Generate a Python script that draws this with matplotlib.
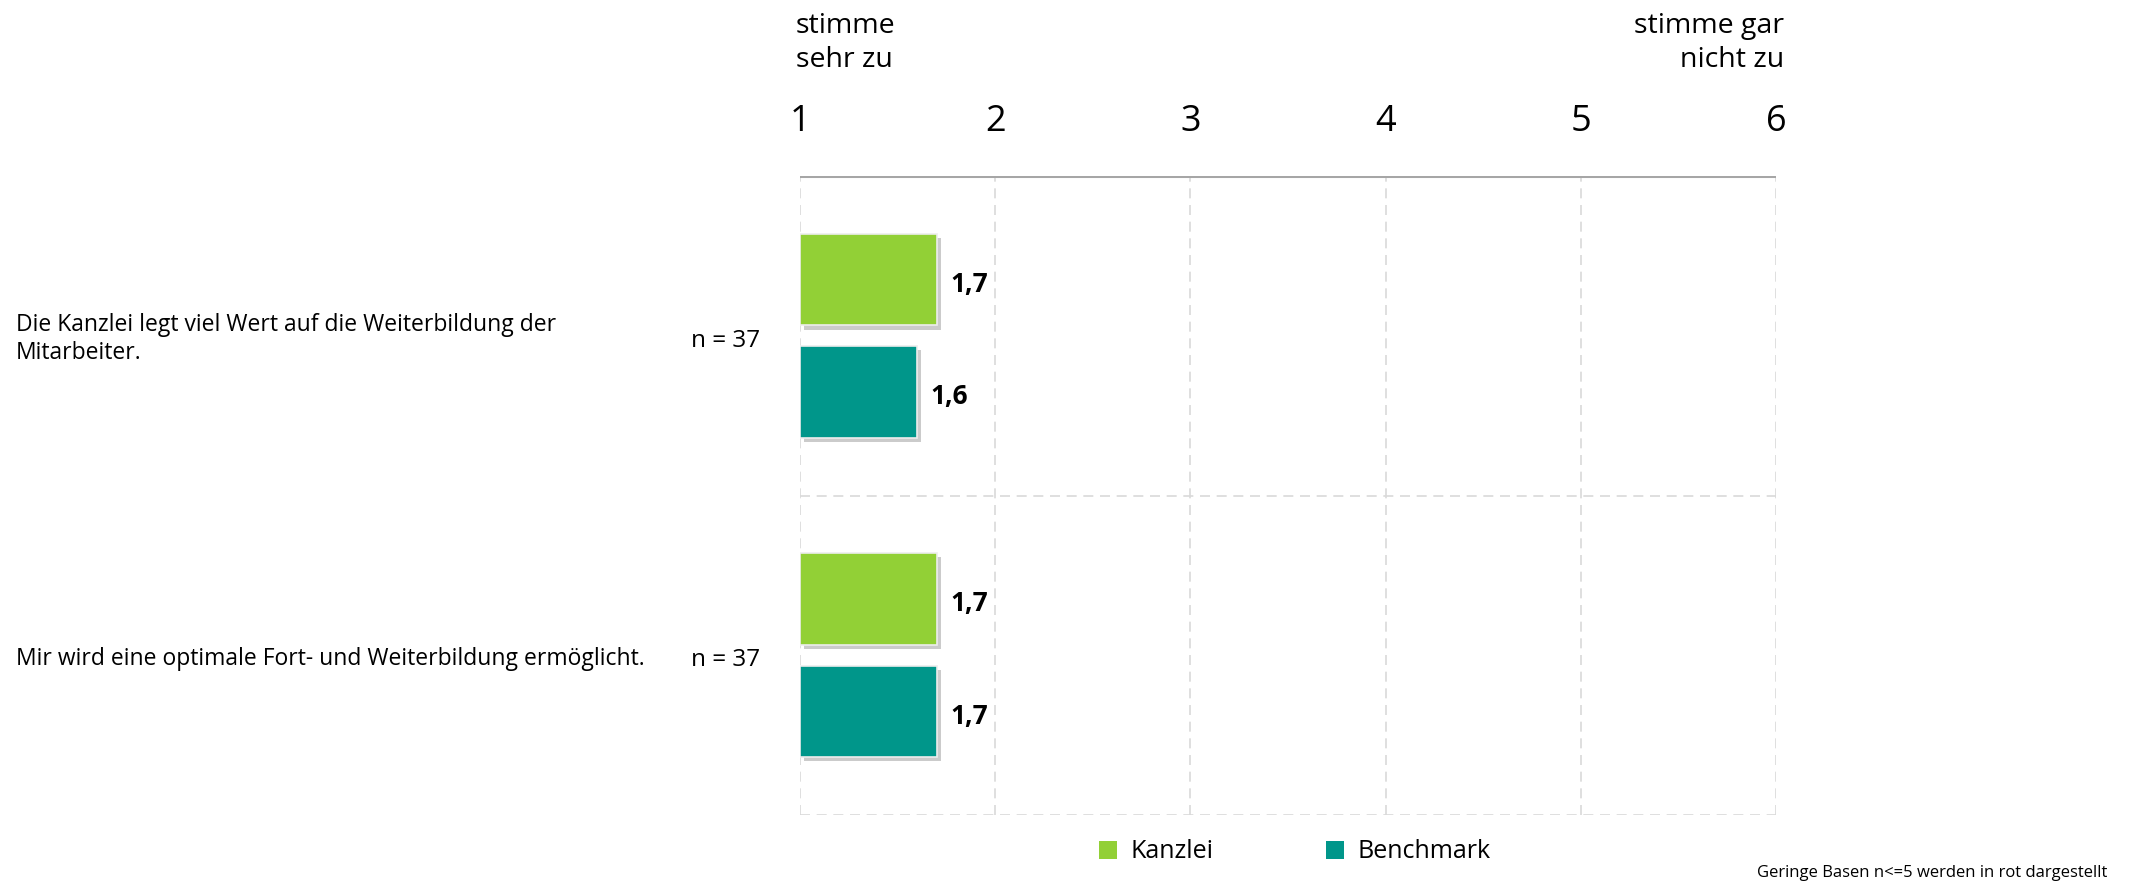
import matplotlib
matplotlib.use("Agg")
import matplotlib.pyplot as plt
import matplotlib.patheffects as pe
from matplotlib.transforms import blended_transform_factory, offset_copy
from matplotlib.patches import Patch

plt.rcParams['font.family'] = ['Open Sans', 'DejaVu Sans']

# ---- data ----
questions = ["Die Kanzlei legt viel Wert auf die Weiterbildung der\nMitarbeiter.",
             "Mir wird eine optimale Fort- und Weiterbildung ermöglicht."]
n_values = [37, 37]
kanzlei = [1.7, 1.7]
benchmark = [1.6, 1.7]
scale_ticks = [1, 2, 3, 4, 5, 6]
scale_left = "stimme\nsehr zu"
scale_right = "stimme gar\nnicht zu"
series_names = ["Kanzlei", "Benchmark"]
colors = ["#92D036", "#00968A"]
footnote = "Geringe Basen n<=5 werden in rot dargestellt"

fig = plt.figure(figsize=(21.29, 8.85), dpi=100)
ax = fig.add_axes([0.3758, 0.0791, 0.8342 - 0.3758, 0.8011 - 0.0791])
xmin, xmax = scale_ticks[0], scale_ticks[-1]
ax.set_xlim(xmin, xmax)
n_groups = len(questions)
ax.set_ylim(0, n_groups)

bar_h = 0.287
offset = 0.176
shadow = [pe.SimplePatchShadow(offset=(3, -3), shadow_rgbFace='#8C8C8C', alpha=0.45), pe.Normal()]

val_trans = offset_copy(ax.transData, fig=fig, x=0, y=-3.5, units='points')
trans = blended_transform_factory(fig.transFigure, ax.transData)
q_trans = offset_copy(trans, fig=fig, x=0, y=-2.5, units='points')
n_trans = offset_copy(trans, fig=fig, x=0, y=-3.5, units='points')

for i, q in enumerate(questions):
    center = n_groups - i - 0.5
    yk = center + offset
    yb = center - offset
    for y, val, col in [(yk, kanzlei[i], colors[0]), (yb, benchmark[i], colors[1])]:
        bars = ax.barh(y, val - xmin, left=xmin, height=bar_h, color=col,
                       edgecolor='#EDEDED', linewidth=1.2, zorder=3)
        for b in bars:
            b.set_path_effects(shadow)
        ax.text(val + 0.07, y, f"{val:.1f}".replace('.', ','), va='center', ha='left',
                fontsize=19, fontweight='bold', color='black', zorder=4, transform=val_trans)
    # question label and n
    ax.text(16 / 2129, center, q, transform=q_trans, ha='left', va='center',
            fontsize=16.5, color='black', linespacing=1.2)
    ax.text(760 / 2129, center, f"n = {n_values[i]}", transform=n_trans, ha='right', va='center',
            fontsize=17.5, color='black')

# grid
for x in scale_ticks:
    ax.axvline(x, color='#D9D9D9', linestyle=(0, (6, 4)), linewidth=1.2, zorder=1)
for y in range(0, n_groups):
    ax.axhline(y, color='#D9D9D9', linestyle=(0, (6, 4)), linewidth=1.2, zorder=1)
ax.axhline(n_groups, color='#A6A6A6', linewidth=2.2, zorder=2)

for s in ax.spines.values():
    s.set_visible(False)
ax.set_yticks([])
ax.set_xticks(scale_ticks)
ax.set_xticklabels([str(t) for t in scale_ticks])
ax.tick_params(axis='x', top=True, labeltop=True, bottom=False, labelbottom=False,
               length=0, pad=26, labelsize=26)

# scale end labels
fig.text(796 / 2129, 1 - 43 / 885, scale_left, ha='left', va='center', fontsize=20.5, linespacing=1.3)
fig.text(1784 / 2129, 1 - 43 / 885, scale_right, ha='right', va='center', fontsize=20.5,
         linespacing=1.3, multialignment='right')

# legend
handles = [Patch(facecolor=colors[0], edgecolor='none'), Patch(facecolor=colors[1], edgecolor='none')]
fig.legend(handles, series_names, loc='center', bbox_to_anchor=(1295 / 2129, 1 - 852 / 885),
           ncol=2, frameon=False, fontsize=18, handlelength=0.72, handleheight=0.72,
           handletextpad=0.55, columnspacing=4.5)

fig.text(2107 / 2129, 1 - 873 / 885, footnote, ha='right', va='center', fontsize=12)

fig.savefig("out.png", dpi=100)
